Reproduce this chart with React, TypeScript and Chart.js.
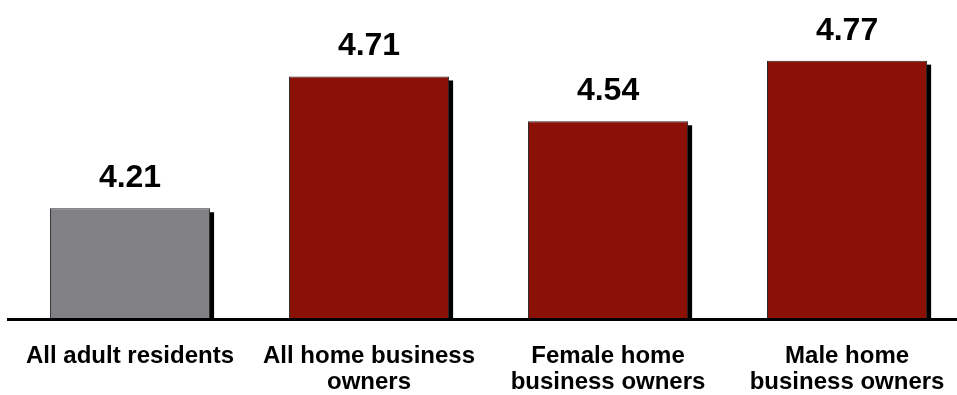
import React, { useEffect, useRef } from "react";
import { Chart, registerables } from "chart.js";

Chart.register(...registerables);

const categories: string[][] = [
  ["All adult residents"],
  ["All home business", "owners"],
  ["Female home", "business owners"],
  ["Male home", "business owners"],
];
const values: number[] = [4.21, 4.71, 4.54, 4.77];
const barColors: string[] = ["#808085", "#8B1005", "#8B1005", "#8B1005"];

const shadowPlugin = {
  id: "barShadow",
  beforeDatasetsDraw(chart: any) {
    const ctx = chart.ctx;
    const meta = chart.getDatasetMeta(0);
    const bottom = chart.chartArea.bottom;
    ctx.save();
    ctx.fillStyle = "#000000";
    meta.data.forEach((bar: any) => {
      const { x, y, width } = bar.getProps(["x", "y", "width"], true);
      ctx.fillRect(x - width / 2 + 4, y + 4, width, bottom - y - 4);
    });
    ctx.restore();
  },
  afterDatasetsDraw(chart: any) {
    const ctx = chart.ctx;
    const meta = chart.getDatasetMeta(0);
    ctx.save();
    ctx.fillStyle = "#000000";
    ctx.font = "bold 32px 'Liberation Sans', Arial, sans-serif";
    ctx.textAlign = "center";
    ctx.textBaseline = "alphabetic";
    meta.data.forEach((bar: any, i: number) => {
      ctx.fillText(values[i].toFixed(2), bar.x, bar.y - 21);
    });
    ctx.restore();
  },
};

export default function App() {
  const ref = useRef<HTMLCanvasElement | null>(null);
  useEffect(() => {
    if (!ref.current) return;
    const chart = new Chart(ref.current, {
      type: "bar",
      data: {
        datasets: [
          {
            data: values.map((v, i) => ({ x: i, y: v })),
            backgroundColor: barColors,
            borderColor: "#2a2a2a",
            borderWidth: 1,
            barPercentage: 0.67,
            categoryPercentage: 1,
          },
        ],
      },
      options: {
        animation: false,
        responsive: false,
        maintainAspectRatio: false,
        layout: { padding: { left: 8, top: 0, right: 0, bottom: 0 } },
        plugins: { legend: { display: false }, tooltip: { enabled: false } },
        scales: {
          x: {
            type: "linear",
            offset: false,
            min: -0.5105,
            max: 3.46,
            grid: { display: false, drawTicks: false, offset: false },
            border: { display: true, color: "#000000", width: 3, z: 1 },
            afterBuildTicks: (scale: any) => {
              scale.ticks = categories.map((_, i) => ({ value: i }));
            },
            afterFit: (scale: any) => {
              scale.height = 76;
              scale.paddingLeft = 0;
              scale.paddingRight = 0;
            },
            ticks: {
              padding: 24,
              autoSkip: false,
              maxRotation: 0,
              color: "#000000",
              font: { family: "'Liberation Sans', Arial, sans-serif", size: 24, weight: "bold", lineHeight: 26 / 24 },
              callback: (v: any) => categories[v as number],
            },
          },
          y: {
            display: false,
            min: 3.79,
            max: 5.0,
          },
        },
      },
      plugins: [shadowPlugin],
    });
    return () => chart.destroy();
  }, []);
  return (
    <div style={{ position: "fixed", left: 0, top: 0, width: 957, height: 395, background: "#fff" }}>
      <canvas ref={ref} width={957} height={395} style={{ display: "block" }} />
    </div>
  );
}
